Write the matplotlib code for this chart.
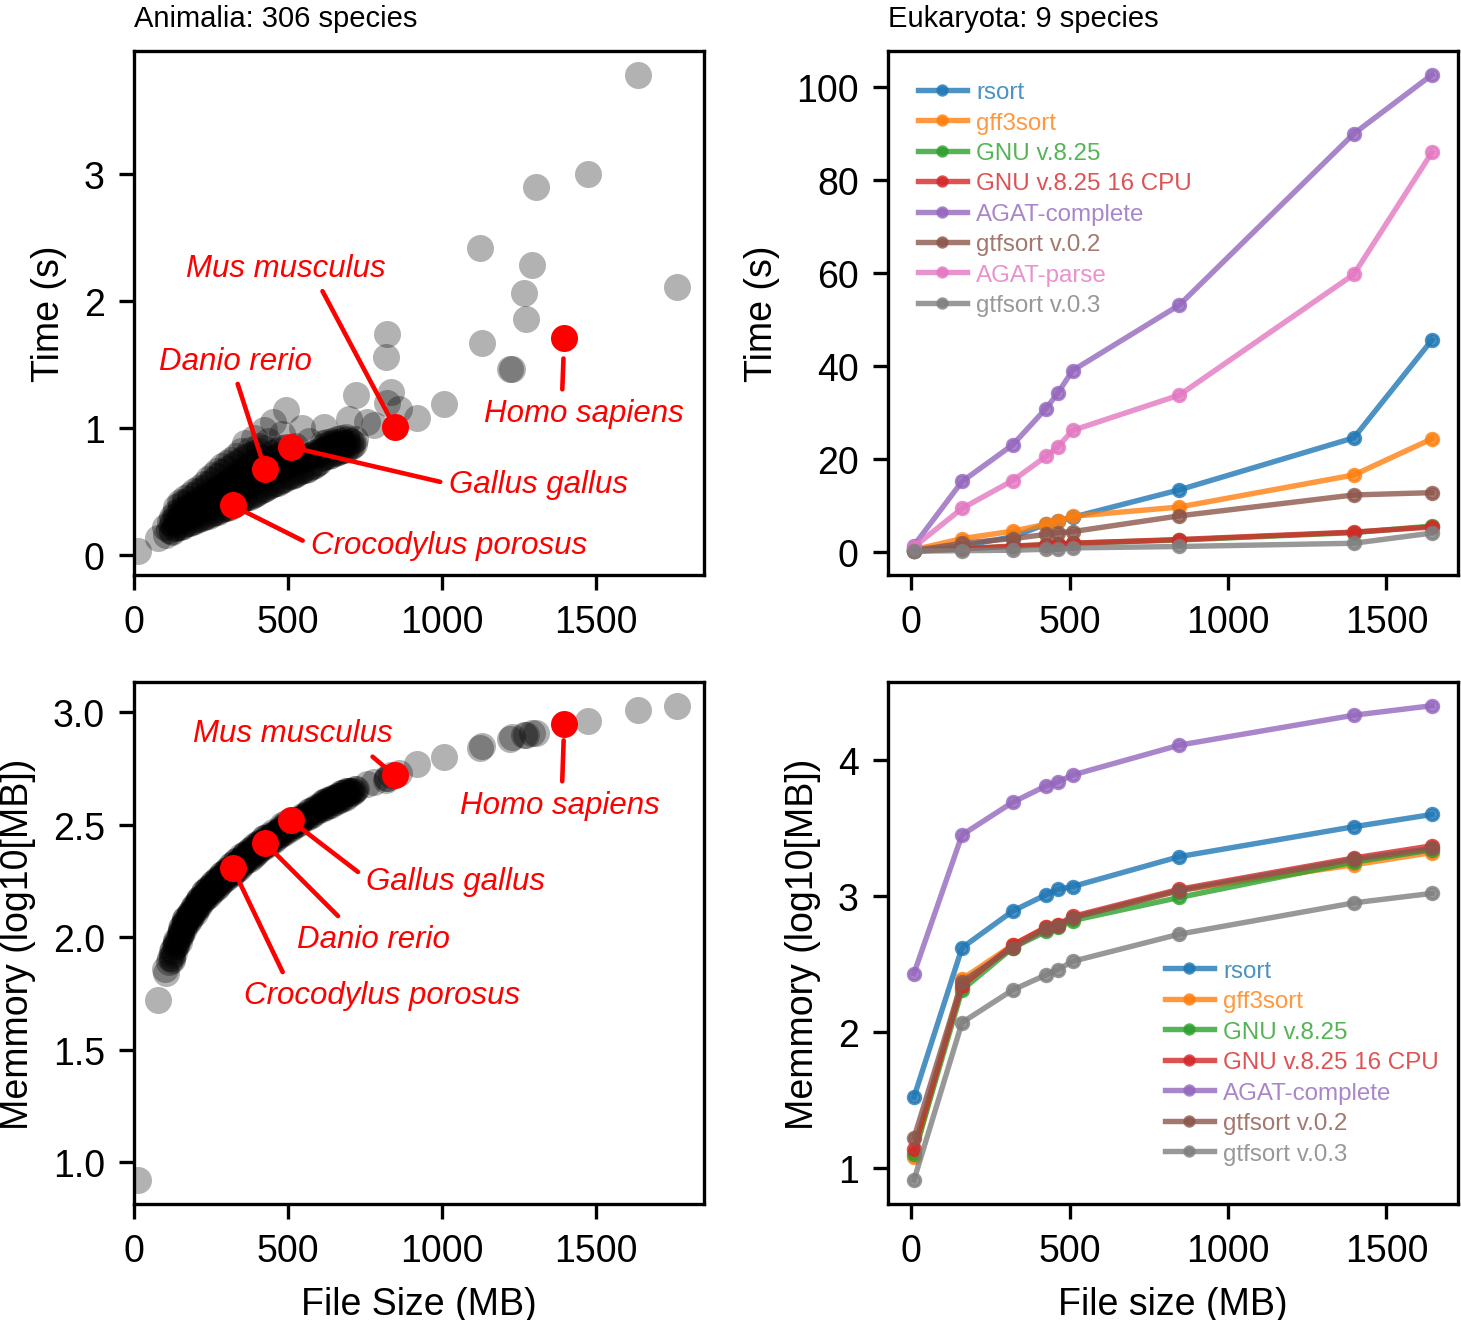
import numpy as np
import matplotlib.pyplot as plt

plt.rcParams['font.family'] = ['Liberation Sans', 'DejaVu Sans']
plt.rcParams['font.size'] = 9

# ---- Animalia: one value per species (file size MB, time s, log10 memory MB)
animal_size = [
    14, 78, 103, 124,
    100,
    115, 118,
    130, 127, 133,
    145, 142, 148, 151,
    160, 157, 163, 166,
    175, 172, 178, 181,
    190, 187, 193, 196,
    205, 202, 208, 211,
    220, 217, 223, 226,
    235, 232, 238, 241,
    250, 247, 253, 256,
    265, 262, 268, 271,
    280, 277, 283, 286,
    295, 292, 298, 301,
    310, 307, 313, 316,
    325, 322, 328, 331,
    340, 337, 343, 346,
    355, 352, 358, 361,
    370, 367, 373, 376,
    385, 382, 388, 391,
    400, 397, 403, 406,
    415, 412, 418, 421,
    430, 427, 433, 436,
    445, 442, 448, 451,
    460, 457, 463,
    475, 472, 478, 481,
    490, 487, 493, 492,
    505, 502, 508,
    520, 517, 523,
    535, 532, 547,
    550, 553,
    565, 562, 568,
    580, 583,
    595, 592, 617,
    610, 607, 613,
    625, 622, 628,
    640, 637, 643,
    655, 652, 658,
    670, 667, 673,
    685, 682, 688,
    700, 703,
    715, 718,
    698, 720, 758, 779, 817, 823, 823, 833, 860, 920, 1006,
    1123, 1130, 1222, 1228, 1266, 1273, 1292, 1305, 1474, 1636, 1763,
    122, 122, 122,
    137, 137, 137, 137,
    152, 152, 152, 152,
    167, 167, 167, 167,
    182, 182, 182, 182,
    197, 197, 197, 197,
    212, 212, 212, 212,
    227, 227, 227, 227,
    242, 242, 242, 242,
    257, 257, 257, 257,
    272, 272, 272, 272,
    287, 287, 287, 287,
    302, 302, 302, 302,
    317, 317, 317, 317,
    332, 332, 332, 332,
    347, 347, 347, 347,
    362, 362, 362, 362,
    377, 377, 377, 377,
    392, 392, 392, 392,
    407, 407, 407, 407,
    422, 422, 422, 422,
    437, 437, 437,
    452, 452, 452,
    467, 467, 467,
    482, 482, 482,
    497, 497, 497,
    512, 512,
    527, 527,
    542, 542,
    557, 557,
    572, 572,
    587, 587,
    602, 602,
    617, 617, 617,
    632, 632, 632,
    647, 647, 647,
    662, 662, 662,
    677, 677, 677,
    692, 692, 692,
    707, 707,
]
animal_time = [
    0.03, 0.13, 0.16, 0.18,
    0.22,
    0.20, 0.26,
    0.21, 0.27, 0.33,
    0.22, 0.28, 0.35, 0.42,
    0.23, 0.30, 0.37, 0.45,
    0.25, 0.31, 0.38, 0.47,
    0.26, 0.33, 0.40, 0.50,
    0.28, 0.35, 0.43, 0.53,
    0.29, 0.36, 0.45, 0.56,
    0.31, 0.38, 0.47, 0.60,
    0.32, 0.40, 0.50, 0.63,
    0.34, 0.42, 0.52, 0.66,
    0.35, 0.44, 0.55, 0.70,
    0.37, 0.46, 0.57, 0.72,
    0.38, 0.48, 0.60, 0.75,
    0.40, 0.50, 0.62, 0.78,
    0.42, 0.53, 0.65, 0.82,
    0.44, 0.55, 0.68, 0.88,
    0.46, 0.57, 0.70, 0.83,
    0.47, 0.59, 0.72, 0.92,
    0.49, 0.61, 0.74, 0.86,
    0.51, 0.63, 0.76, 0.98,
    0.53, 0.65, 0.78, 0.90,
    0.55, 0.67, 0.80, 1.05,
    0.57, 0.69, 0.82,
    0.58, 0.70, 0.84, 0.95,
    0.60, 0.72, 0.85, 1.14,
    0.62, 0.73, 0.84,
    0.63, 0.74, 0.86,
    0.65, 0.76, 1.00,
    0.67, 0.77,
    0.68, 0.79, 0.90,
    0.70, 0.80,
    0.72, 0.81, 1.01,
    0.76, 0.82, 0.88,
    0.78, 0.84, 0.89,
    0.79, 0.85, 0.90,
    0.80, 0.86, 0.91,
    0.82, 0.87, 0.92,
    0.83, 0.88, 0.93,
    0.85, 0.90,
    0.87, 0.91,
    1.07, 1.26, 1.05, 1.02, 1.56, 1.74, 1.20, 1.28, 1.15, 1.08, 1.19,
    2.42, 1.67, 1.46, 1.46, 2.06, 1.86, 2.28, 2.90, 3.00, 3.78, 2.11,
    0.19, 0.24, 0.30,
    0.21, 0.26, 0.31, 0.38,
    0.22, 0.27, 0.33, 0.40,
    0.24, 0.29, 0.35, 0.42,
    0.25, 0.31, 0.37, 0.44,
    0.27, 0.32, 0.39, 0.47,
    0.28, 0.34, 0.41, 0.50,
    0.30, 0.36, 0.43, 0.53,
    0.31, 0.38, 0.46, 0.56,
    0.33, 0.40, 0.48, 0.59,
    0.34, 0.42, 0.51, 0.62,
    0.36, 0.44, 0.53, 0.65,
    0.37, 0.46, 0.56, 0.68,
    0.39, 0.48, 0.58, 0.70,
    0.41, 0.50, 0.60, 0.72,
    0.43, 0.52, 0.62, 0.75,
    0.45, 0.54, 0.64, 0.77,
    0.46, 0.56, 0.66, 0.79,
    0.48, 0.58, 0.68, 0.80,
    0.50, 0.60, 0.70, 0.82,
    0.52, 0.62, 0.72, 0.84,
    0.54, 0.64, 0.74,
    0.56, 0.66, 0.76,
    0.57, 0.67, 0.78,
    0.59, 0.69, 0.79,
    0.61, 0.71, 0.80,
    0.62, 0.72,
    0.64, 0.73,
    0.66, 0.75,
    0.67, 0.76,
    0.69, 0.78,
    0.71, 0.79,
    0.73, 0.80,
    0.77, 0.83, 0.86,
    0.78, 0.84, 0.87,
    0.80, 0.85, 0.88,
    0.81, 0.86, 0.89,
    0.83, 0.87, 0.90,
    0.84, 0.88, 0.91,
    0.86, 0.89,
]
animal_mem = [
    0.92, 1.72, 1.84, 1.90,
    1.86,
    1.89, 1.91,
    1.93, 1.95, 1.96,
    1.98, 1.99, 2.01, 2.02,
    2.03, 2.05, 2.06, 2.08,
    2.07, 2.08, 2.10, 2.11,
    2.10, 2.11, 2.13, 2.14,
    2.13, 2.14, 2.16, 2.17,
    2.16, 2.17, 2.18, 2.20,
    2.18, 2.19, 2.21, 2.22,
    2.20, 2.21, 2.23, 2.24,
    2.22, 2.23, 2.25, 2.26,
    2.24, 2.25, 2.27, 2.28,
    2.26, 2.27, 2.29, 2.30,
    2.28, 2.29, 2.30, 2.32,
    2.29, 2.31, 2.32, 2.34,
    2.31, 2.33, 2.34, 2.36,
    2.33, 2.34, 2.36, 2.37,
    2.35, 2.36, 2.37, 2.39,
    2.36, 2.38, 2.39, 2.40,
    2.38, 2.39, 2.41, 2.42,
    2.40, 2.41, 2.42, 2.44,
    2.41, 2.42, 2.44, 2.45,
    2.43, 2.44, 2.45, 2.47,
    2.44, 2.46, 2.47,
    2.46, 2.47, 2.48, 2.50,
    2.47, 2.48, 2.50, 2.51,
    2.48, 2.50, 2.51,
    2.50, 2.51, 2.52,
    2.51, 2.52, 2.54,
    2.53, 2.54,
    2.54, 2.55, 2.56,
    2.55, 2.57,
    2.56, 2.58, 2.59,
    2.57, 2.59, 2.60,
    2.58, 2.60, 2.61,
    2.59, 2.61, 2.62,
    2.60, 2.62, 2.63,
    2.61, 2.63, 2.64,
    2.62, 2.64, 2.65,
    2.64, 2.65,
    2.65, 2.66,
    2.65, 2.66, 2.68, 2.69, 2.70, 2.71, 2.71, 2.72, 2.73, 2.77, 2.80,
    2.84, 2.85, 2.88, 2.89, 2.90, 2.90, 2.91, 2.91, 2.96, 3.01, 3.03,
    1.91, 1.92, 1.94,
    1.96, 1.97, 1.98, 1.99,
    2.01, 2.02, 2.03, 2.04,
    2.05, 2.06, 2.07, 2.08,
    2.08, 2.09, 2.10, 2.11,
    2.11, 2.12, 2.13, 2.14,
    2.14, 2.15, 2.16, 2.17,
    2.17, 2.18, 2.19, 2.20,
    2.19, 2.20, 2.21, 2.22,
    2.21, 2.22, 2.23, 2.24,
    2.23, 2.24, 2.25, 2.26,
    2.25, 2.26, 2.27, 2.28,
    2.27, 2.28, 2.29, 2.30,
    2.28, 2.29, 2.31, 2.32,
    2.30, 2.31, 2.32, 2.34,
    2.32, 2.33, 2.34, 2.35,
    2.34, 2.35, 2.36, 2.37,
    2.35, 2.36, 2.38, 2.39,
    2.37, 2.38, 2.39, 2.41,
    2.39, 2.40, 2.41, 2.42,
    2.40, 2.41, 2.43, 2.44,
    2.42, 2.43, 2.44,
    2.43, 2.45, 2.46,
    2.45, 2.46, 2.47,
    2.46, 2.47, 2.49,
    2.48, 2.49, 2.50,
    2.49, 2.50,
    2.50, 2.52,
    2.52, 2.53,
    2.53, 2.54,
    2.54, 2.56,
    2.56, 2.57,
    2.57, 2.58,
    2.58, 2.59, 2.60,
    2.59, 2.60, 2.61,
    2.60, 2.61, 2.62,
    2.61, 2.62, 2.63,
    2.62, 2.63, 2.64,
    2.63, 2.64, 2.65,
    2.64, 2.65,
]

# highlighted species
sp_names = ['Crocodylus porosus', 'Danio rerio', 'Gallus gallus', 'Mus musculus', 'Homo sapiens']
sp_size = [320, 425, 509, 846, 1397]
sp_time = [0.39, 0.68, 0.85, 1.01, 1.71]
sp_mem = [2.31, 2.42, 2.52, 2.72, 2.95]

# ---- Eukaryota: 9 species
euk_size = [8, 160, 320, 425, 463, 509, 846, 1397, 1644]

tools = ['rsort', 'gff3sort', 'GNU v.8.25', 'GNU v.8.25 16 CPU', 'AGAT-complete',
         'gtfsort v.0.2', 'AGAT-parse', 'gtfsort v.0.3']
tool_colors = ['tab:blue', 'tab:orange', 'tab:green', 'tab:red', 'tab:purple',
               'tab:brown', 'tab:pink', 'tab:gray']

time_rsort = [0.5, 1.2, 3.2, 5.9, 6.6, 7.4, 13.3, 24.5, 45.6]
time_gff3sort = [0.4, 2.8, 4.4, 5.9, 6.6, 7.6, 9.6, 16.5, 24.3]
time_gnu = [0.1, 0.6, 1.1, 1.5, 1.6, 1.8, 2.5, 4.1, 5.5]
time_gnu16 = [0.1, 0.6, 1.2, 1.5, 1.6, 1.8, 2.6, 4.2, 5.3]
time_agat_complete = [1.3, 15.1, 23.0, 30.8, 34.2, 39.0, 53.1, 90.0, 102.7]
time_gtfsort02 = [0.2, 1.8, 2.8, 3.7, 4.1, 4.3, 7.7, 12.2, 12.7]
time_agat_parse = [1.0, 9.3, 15.3, 20.5, 22.6, 26.1, 33.7, 59.7, 86.0]
time_gtfsort03 = [0.1, 0.2, 0.3, 0.5, 0.5, 0.8, 1.1, 1.8, 4.0]

mem_rsort = [1.52, 2.62, 2.89, 3.01, 3.05, 3.07, 3.29, 3.51, 3.60]
mem_gff3sort = [1.08, 2.39, 2.64, 2.77, 2.79, 2.84, 3.04, 3.23, 3.32]
mem_gnu = [1.10, 2.31, 2.62, 2.74, 2.77, 2.82, 2.99, 3.25, 3.34]
mem_gnu16 = [1.14, 2.34, 2.64, 2.77, 2.79, 2.85, 3.05, 3.28, 3.37]
mem_agat_complete = [2.43, 3.45, 3.69, 3.81, 3.84, 3.89, 4.11, 4.33, 4.40]
mem_gtfsort02 = [1.22, 2.37, 2.62, 2.76, 2.78, 2.84, 3.04, 3.27, 3.35]
mem_gtfsort03 = [0.91, 2.07, 2.31, 2.42, 2.46, 2.52, 2.72, 2.95, 3.02]

time_series = [time_rsort, time_gff3sort, time_gnu, time_gnu16, time_agat_complete,
               time_gtfsort02, time_agat_parse, time_gtfsort03]
mem_series = [mem_rsort, mem_gff3sort, mem_gnu, mem_gnu16, mem_agat_complete,
              mem_gtfsort02, None, mem_gtfsort03]

fig = plt.figure(figsize=(4.87, 4.4033), dpi=300)
ax_t = fig.add_axes([0.0917, 0.5640, 0.3901, 0.3967])
ax_m = fig.add_axes([0.0917, 0.0878, 0.3901, 0.3952])
ax_et = fig.add_axes([0.6078, 0.5640, 0.3901, 0.3967])
ax_em = fig.add_axes([0.6078, 0.0878, 0.3901, 0.3952])

# left column: scatter of all species
ax_t.scatter(animal_size, animal_time, s=42, color='k', alpha=0.3, linewidths=0)
ax_t.scatter(sp_size, sp_time, s=42, color='red', linewidths=0, zorder=3)
ax_m.scatter(animal_size, animal_mem, s=42, color='k', alpha=0.3, linewidths=0)
ax_m.scatter(sp_size, sp_mem, s=42, color='red', linewidths=0, zorder=3)

# label placement: text centre (data coords), attachment point on the text box, shrink at point
lab_time = {
    'Crocodylus porosus': ((1023, 0.08), (0, 0.5), 2),
    'Danio rerio': ((328, 1.53), (0.5, 0), 2),
    'Gallus gallus': ((1312, 0.56), (0, 0.5), 2),
    'Mus musculus': ((494, 2.26), (0.66, 0), 2),
    'Homo sapiens': ((1461, 1.12), (0.39, 1), 5),
}
lab_mem = {
    'Crocodylus porosus': ((805, 1.742), (0.155, 1), 3),
    'Danio rerio': ((779, 1.991), (0.32, 1), 3),
    'Gallus gallus': ((1045, 2.249), (0, 0.6), 3),
    'Mus musculus': ((516, 2.907), (0.85, 0), 1),
    'Homo sapiens': ((1383, 2.59), (0.51, 1), 4),
}
for ax, yvals, labs in [(ax_t, sp_time, lab_time), (ax_m, sp_mem, lab_mem)]:
    for name, xv, yv in zip(sp_names, sp_size, yvals):
        pos, rel, shr = labs[name]
        ax.annotate(name, xy=(xv, yv), xytext=pos, ha='center', va='center',
                    color='red', fontstyle='italic', fontsize=7.5,
                    arrowprops=dict(arrowstyle='-', color='red', lw=1.1,
                                    relpos=rel, shrinkA=0, shrinkB=shr))

ax_t.set_xlim(left=0)
ax_m.set_xlim(left=0)
ax_t.set_yticks([0, 1, 2, 3])
ax_m.set_yticks([1.0, 1.5, 2.0, 2.5, 3.0])
ax_t.set_xticks([0, 500, 1000, 1500])
ax_m.set_xticks([0, 500, 1000, 1500])
ax_t.set_ylabel('Time (s)')
ax_m.set_ylabel('Memmory (log10[MB])')
ax_m.set_xlabel('File Size (MB)')
ax_t.set_title('Animalia: 306 species', loc='left', fontsize=7, pad=6)

# right column: tools on 9 eukaryotes
for name, col, tv, mv in zip(tools, tool_colors, time_series, mem_series):
    ax_et.plot(euk_size, tv, '-o', color=col, lw=1.3, ms=2.9, mew=0.8, alpha=0.8, label=name)
    if mv is not None:
        ax_em.plot(euk_size, mv, '-o', color=col, lw=1.3, ms=2.9, mew=0.8, alpha=0.8, label=name)

leg_t = ax_et.legend(loc='upper left', frameon=False, fontsize=5.8, labelspacing=0.35,
                     handletextpad=0.4, borderaxespad=0.85, markerscale=0.75)
leg_m = ax_em.legend(loc='lower right', bbox_to_anchor=(1.005, 0.034), frameon=False,
                     fontsize=5.8, labelspacing=0.35, handletextpad=0.4, markerscale=0.75)
for leg in [leg_t, leg_m]:
    for txt, ln in zip(leg.get_texts(), leg.get_lines()):
        txt.set_color(ln.get_color())
        txt.set_alpha(0.8)

ax_et.set_xticks([0, 500, 1000, 1500])
ax_em.set_xticks([0, 500, 1000, 1500])
ax_et.set_yticks([0, 20, 40, 60, 80, 100])
ax_em.set_yticks([1, 2, 3, 4])
ax_et.set_ylabel('Time (s)')
ax_em.set_ylabel('Memmory (log10[MB])')
ax_em.set_xlabel('File size (MB)')
ax_et.set_title('Eukaryota: 9 species', loc='left', fontsize=7, pad=6)

fig.savefig('out.png', dpi=300)
